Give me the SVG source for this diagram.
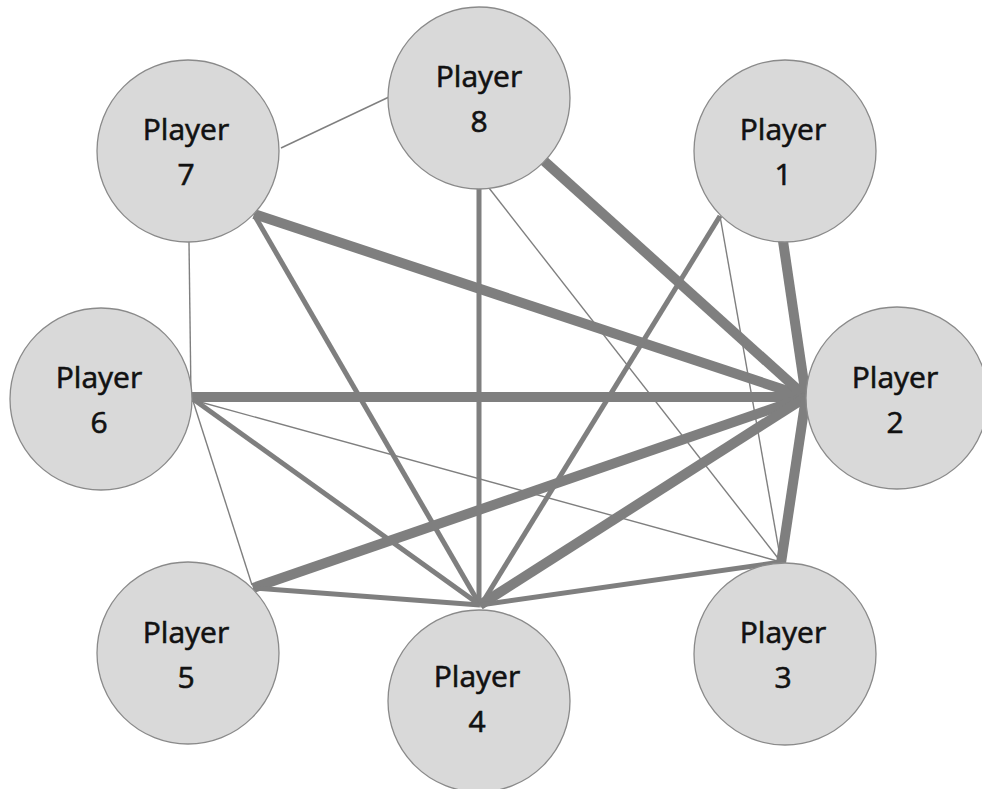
<svg xmlns="http://www.w3.org/2000/svg" width="982" height="789" viewBox="0 0 982 789">
<style>
.e{stroke:#7f7f7f;fill:none;stroke-linecap:butt}
.thin{stroke-width:1.4}
.med{stroke-width:5}
.thick{stroke-width:10}
.n circle{fill:#d9d9d9;stroke:#8a8a8a;stroke-width:1.3}
.n text{font-family:"Open Sans","Liberation Sans",sans-serif;font-size:30px;fill:#111111;stroke:#111111;stroke-width:0.6;text-anchor:middle}
</style>
<rect width="982" height="789" fill="#ffffff"/>
<g id="connectors">
<line class="e thin" x1="281" y1="148" x2="389" y2="97"/>
<line class="e thin" x1="189" y1="242" x2="191" y2="398"/>
<line class="e thick" x1="254" y1="214" x2="806" y2="397"/>
<line class="e med" x1="256" y1="218" x2="480" y2="605"/>
<line class="e med" x1="479" y1="189" x2="479" y2="605"/>
<line class="e thick" x1="543" y1="160" x2="806" y2="397"/>
<line class="e thin" x1="489" y1="188" x2="781" y2="562"/>
<line class="e thick" x1="783" y1="241" x2="806" y2="397"/>
<line class="e med" x1="720" y1="216" x2="481" y2="605"/>
<line class="e thin" x1="720" y1="216" x2="781" y2="562"/>
<line class="e thick" x1="192" y1="397" x2="806" y2="397"/>
<line class="e med" x1="193" y1="399" x2="480" y2="605"/>
<line class="e thin" x1="193" y1="400" x2="781" y2="562"/>
<line class="e thin" x1="193" y1="401" x2="252" y2="585"/>
<line class="e thick" x1="253" y1="588" x2="806" y2="397"/>
<line class="e med" x1="253" y1="588" x2="480" y2="605"/>
<line class="e thick" x1="480" y1="605" x2="806" y2="397"/>
<line class="e med" x1="480" y1="605" x2="781" y2="562"/>
<line class="e thick" x1="781" y1="563" x2="806" y2="397"/>
</g>
<g id="player8" class="n"><circle cx="479" cy="98" r="91"/><text x="479" y="87">Player</text><text x="479" y="132">8</text></g>
<g id="player7" class="n"><circle cx="188" cy="151" r="91"/><text x="186" y="140">Player</text><text x="186" y="185">7</text></g>
<g id="player1" class="n"><circle cx="785" cy="151" r="91"/><text x="783" y="140">Player</text><text x="783" y="185">1</text></g>
<g id="player6" class="n"><circle cx="101" cy="399" r="91"/><text x="99" y="388">Player</text><text x="99" y="433">6</text></g>
<g id="player2" class="n"><circle cx="897" cy="398" r="91"/><text x="895" y="388">Player</text><text x="895" y="433">2</text></g>
<g id="player5" class="n"><circle cx="188" cy="653" r="91"/><text x="186" y="643">Player</text><text x="186" y="688">5</text></g>
<g id="player4" class="n"><circle cx="479" cy="701" r="91"/><text x="477" y="687">Player</text><text x="477" y="732">4</text></g>
<g id="player3" class="n"><circle cx="785" cy="654" r="91"/><text x="783" y="643">Player</text><text x="783" y="688">3</text></g>
</svg>
